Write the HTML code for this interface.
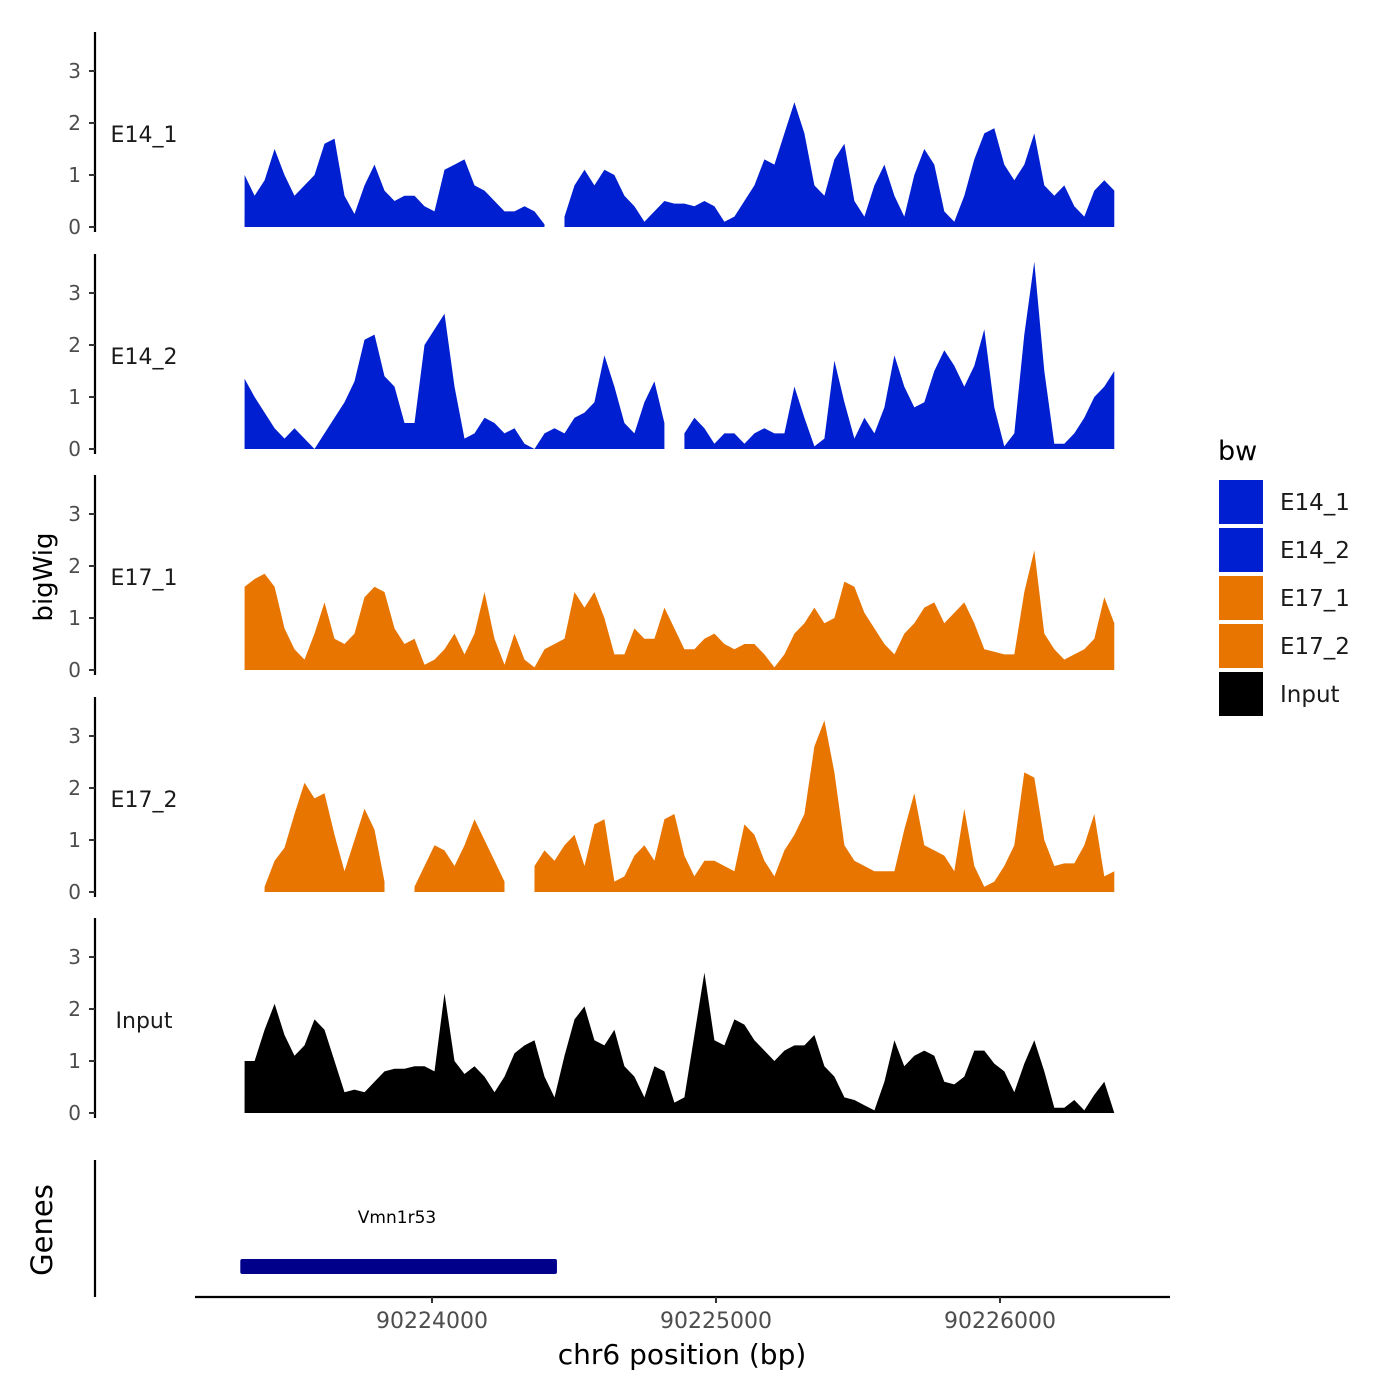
<!DOCTYPE html>
<html><head><meta charset="utf-8"><style>
body{margin:0;background:#fff}
svg{display:block;font-family:"DejaVu Sans","Liberation Sans",sans-serif}
</style></head><body>
<svg id="chart" width="1400" height="1400" viewBox="0 0 1400 1400">
<rect width="1400" height="1400" fill="#fff"/>
<g id="tracks"></g>
<g id="genes">
<line x1="95" y1="1160" x2="95" y2="1297" stroke="#000" stroke-width="2.2"/>
<text x="52" y="1230" font-size="29" text-anchor="middle" transform="rotate(-90 52 1230)">Genes</text>
</g>
<g id="xaxis">
<line x1="195" y1="1297" x2="1170" y2="1297" stroke="#000" stroke-width="2.2"/>
<text x="682" y="1364" font-size="28" text-anchor="middle">chr6 position (bp)</text>
</g>
<text x="52" y="577" font-size="26" text-anchor="middle" transform="rotate(-90 52 577)">bigWig</text>
<g id="legend">
<text x="1218" y="460" font-size="27">bw</text>
</g>
</svg>
<script>
const tracks=["E14_1","E14_2","E17_1","E17_2","Input"];
const trackColors=["#001FD0","#001FD0","#E87500","#E87500","#000000"];
const binStart=90223340, binStep=35.2;
const e14_1=[1.0,0.6,0.9,1.5,1.0,0.6,0.8,1.0,1.6,1.7,0.6,0.25,0.8,1.2,0.7,0.5,0.6,0.6,0.4,0.3,1.1,1.2,1.3,0.8,0.7,0.5,0.3,0.3,0.4,0.3,0.05,null,0.2,0.8,1.1,0.8,1.1,1.0,0.6,0.4,0.1,0.3,0.5,0.45,0.45,0.4,0.5,0.4,0.1,0.2,0.5,0.8,1.3,1.2,1.8,2.4,1.8,0.8,0.6,1.3,1.6,0.5,0.2,0.8,1.2,0.6,0.2,1.0,1.5,1.2,0.3,0.1,0.6,1.3,1.8,1.9,1.2,0.9,1.2,1.8,0.8,0.6,0.8,0.4,0.2,0.7,0.9,0.7];
const e14_2=[1.35,1.0,0.7,0.4,0.2,0.4,0.2,0.0,0.3,0.6,0.9,1.3,2.1,2.2,1.4,1.2,0.5,0.5,2.0,2.3,2.6,1.2,0.2,0.3,0.6,0.5,0.3,0.4,0.1,0.0,0.3,0.4,0.3,0.6,0.7,0.9,1.8,1.2,0.5,0.3,0.9,1.3,0.5,null,0.3,0.6,0.4,0.1,0.3,0.3,0.1,0.3,0.4,0.3,0.3,1.2,0.6,0.05,0.2,1.7,0.9,0.2,0.6,0.3,0.8,1.8,1.2,0.8,0.9,1.5,1.9,1.6,1.2,1.6,2.3,0.8,0.05,0.3,2.2,3.6,1.5,0.1,0.1,0.3,0.6,1.0,1.2,1.5];
const e17_1=[1.6,1.75,1.85,1.6,0.8,0.4,0.2,0.7,1.3,0.6,0.5,0.7,1.4,1.6,1.5,0.8,0.5,0.6,0.1,0.2,0.4,0.7,0.3,0.7,1.5,0.6,0.1,0.7,0.2,0.05,0.4,0.5,0.6,1.5,1.2,1.5,1.0,0.3,0.3,0.8,0.6,0.6,1.2,0.8,0.4,0.4,0.6,0.7,0.5,0.4,0.5,0.5,0.3,0.05,0.3,0.7,0.9,1.2,0.9,1.0,1.7,1.6,1.1,0.8,0.5,0.3,0.7,0.9,1.2,1.3,0.9,1.1,1.3,0.9,0.4,0.35,0.3,0.3,1.5,2.3,0.7,0.4,0.2,0.3,0.4,0.6,1.4,0.9];
const e17_2=[0.0,null,0.1,0.6,0.85,1.5,2.1,1.8,1.9,1.1,0.4,1.0,1.6,1.2,0.2,null,null,0.1,0.5,0.9,0.8,0.5,0.9,1.4,1.0,0.6,0.2,null,null,0.5,0.8,0.6,0.9,1.1,0.5,1.3,1.4,0.2,0.3,0.7,0.9,0.6,1.4,1.5,0.7,0.3,0.6,0.6,0.5,0.4,1.3,1.1,0.6,0.3,0.8,1.1,1.5,2.8,3.3,2.3,0.9,0.6,0.5,0.4,0.4,0.4,1.2,1.9,0.9,0.8,0.7,0.4,1.6,0.5,0.1,0.2,0.5,0.9,2.3,2.2,1.0,0.5,0.55,0.55,0.9,1.5,0.3,0.4];
const input=[1.0,1.0,1.6,2.1,1.5,1.1,1.3,1.8,1.6,1.0,0.4,0.45,0.4,0.6,0.8,0.85,0.85,0.9,0.9,0.8,2.3,1.0,0.75,0.9,0.7,0.4,0.7,1.15,1.3,1.4,0.7,0.3,1.1,1.8,2.05,1.4,1.3,1.6,0.9,0.7,0.3,0.9,0.8,0.2,0.3,1.5,2.7,1.4,1.3,1.8,1.7,1.4,1.2,1.0,1.2,1.3,1.3,1.5,0.9,0.7,0.3,0.25,0.15,0.05,0.6,1.4,0.9,1.1,1.2,1.1,0.6,0.55,0.7,1.2,1.2,0.95,0.8,0.4,0.95,1.4,0.8,0.1,0.1,0.25,0.05,0.35,0.6,0.0];
const series=[e14_1,e14_2,e17_1,e17_2,input];
const yTicks=[0,1,2,3];
const xTicks=[90224000,90225000,90226000];
const geneName="Vmn1r53";
const geneStart=90223325, geneEnd=90224440;

const NS="http://www.w3.org/2000/svg";
function mk(tag,attrs,parent){const e=document.createElementNS(NS,tag);for(const k in attrs)e.setAttribute(k,attrs[k]);parent.appendChild(e);return e;}
function xs(bp){return 432+(bp-90224000)*0.284;}
const panelTop=[227,449,670,892,1113];
function ys(i,v){return panelTop[i]-v*52;}

const tg=document.getElementById('tracks');
series.forEach((vals,i)=>{
  const g=mk('g',{},tg);
  
  
  const ax=mk('line',{x1:95,y1:panelTop[i]-195,x2:95,y2:panelTop[i]+5,stroke:'#000','stroke-width':2.2},g);
  
  
  yTicks.forEach(t=>{
    const tl=mk('line',{x1:89,x2:95,y1:ys(i,t),y2:ys(i,t),stroke:'#333','stroke-width':2},g);
    
    
    const tx=mk('text',{x:81,y:ys(i,t)+7,'font-size':20,'text-anchor':'end',fill:'#4d4d4d'},g);
    tx.textContent=t;
    
    
  });
  const lb=mk('text',{x:144,y:panelTop[i]-85,'font-size':22,'text-anchor':'middle',fill:'#1a1a1a'},g);
  lb.textContent=tracks[i];
  
  
  let seg=[];
  const segs=[];
  vals.forEach((v,j)=>{
    if(v===null){if(seg.length)segs.push(seg);seg=[];}
    else seg.push([xs(binStart+j*binStep),v]);
  });
  if(seg.length)segs.push(seg);
  segs.forEach(s=>{
    let d='M'+s[0][0]+','+panelTop[i];
    s.forEach(p=>{d+=' L'+p[0].toFixed(1)+','+ys(i,p[1]).toFixed(1);});
    d+=' L'+s[s.length-1][0]+','+panelTop[i]+' Z';
    const p=mk('path',{d:d,fill:trackColors[i]},g);
    
    
  });
});

const gg=document.getElementById('genes');
const gb=mk('rect',{x:xs(geneStart),y:1259,width:xs(geneEnd)-xs(geneStart),height:15,fill:'#00008B',rx:2},gg);


const gt=mk('text',{x:397,y:1223,'font-size':17,'text-anchor':'middle'},gg);
gt.textContent=geneName;



const xa=document.getElementById('xaxis');
xTicks.forEach(t=>{
  const l=mk('line',{x1:xs(t),x2:xs(t),y1:1297,y2:1303,stroke:'#333','stroke-width':2},xa);
  
  
  const tx=mk('text',{x:xs(t),y:1328,'font-size':22,'text-anchor':'middle',fill:'#4d4d4d'},xa);
  tx.textContent=t;
  
  
});

const lg=document.getElementById('legend');
tracks.forEach((t,i)=>{
  const r=mk('rect',{x:1219,y:480+i*48,width:44,height:44,fill:trackColors[i]},lg);
  
  
  const tx=mk('text',{x:1280,y:510+i*48,'font-size':23,fill:'#1a1a1a'},lg);
  tx.textContent=t;
  
  
});
</script>
</body></html>
